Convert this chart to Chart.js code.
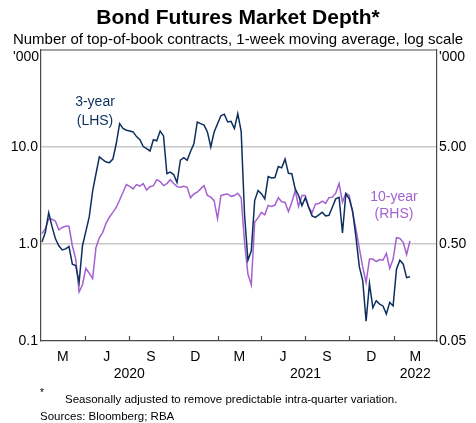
<!DOCTYPE html>
<html>
<head>
<meta charset="utf-8">
<title>Bond Futures Market Depth</title>
<script src="https://cdn.jsdelivr.net/npm/chart.js@4.4.1/dist/chart.umd.min.js"></script>
<style>
  html, body { margin: 0; padding: 0; background: #fff; }
  canvas { display: block; }
</style>
</head>
<body>
<canvas id="c" width="476" height="423"></canvas>
<script>
// weekly observations, first one on 3 Jan 2020
const firstObs = '2020-01-03';
const obsStepDays = 7;

// 3-year futures, '000 contracts (LHS)
const threeYear = [
  1.05, 1.32, 2.1, 1.5, 1.13, 0.96, 0.87, 0.89, 0.94, 0.62,
  0.60, 0.40, 0.96, 1.35, 1.9, 3.5, 5.3, 7.9, 7.4, 7.0,
  6.9, 7.5, 10.8, 17.4, 15.5, 14.9, 14.6, 14.3, 12.8, 11.9,
  10.1, 9.6, 9.1, 11.9, 11.6, 14.6, 13.0, 5.3, 5.5, 5.2,
  4.3, 7.3, 7.75, 7.3, 9.0, 10.8, 18.1, 17.4, 16.8, 14.3,
  10.0, 14.3, 17.4, 21.0, 21.8, 18.1, 18.4, 15.5, 22.1, 14.5,
  2.0, 0.68, 0.85, 2.8, 3.55, 3.3, 2.92, 4.96, 4.8, 4.85,
  6.3, 6.1, 7.5, 5.35, 5.3, 3.7, 3.16, 2.49, 2.99, 2.39,
  1.95, 1.88, 2.0, 2.12, 1.95, 1.98, 2.39, 2.92, 3.03, 1.3,
  3.29, 2.92, 2.2, 1.17, 0.58, 0.42, 0.16, 0.39, 0.22, 0.26,
  0.24, 0.23, 0.19, 0.25, 0.23, 0.55, 0.68, 0.62, 0.45, 0.46
];

// 10-year futures, '000 contracts (RHS)
const tenYear = [
  0.64, 0.72, 0.91, 0.9, 0.86, 0.70, 0.74, 0.76, 0.76, 0.48,
  0.35, 0.16, 0.19, 0.28, 0.25, 0.22, 0.46, 0.58, 0.66, 0.82,
  0.95, 1.06, 1.19, 1.42, 1.71, 2.05, 1.96, 1.85, 2.05, 1.98,
  2.1, 1.8, 1.95, 2.0, 2.3, 2.2, 2.0, 2.1, 2.3, 2.1,
  1.95, 1.92, 1.97, 1.92, 1.5, 1.64, 1.71, 1.85, 2.0, 1.58,
  1.52, 1.40, 0.91, 1.58, 1.62, 1.64, 1.55, 1.58, 1.67, 1.5,
  0.52, 0.245, 0.19, 0.84, 0.93, 1.06, 1.0, 1.25, 1.22, 1.26,
  1.5, 1.36, 1.34, 1.08, 1.35, 1.78, 1.22, 1.58, 1.58, 1.19,
  1.05, 1.29, 1.31, 1.38, 1.31, 1.5, 1.52, 1.67, 2.1, 1.35,
  1.67, 1.58, 1.06, 0.71, 0.45, 0.29, 0.2, 0.35, 0.35, 0.33,
  0.345, 0.34, 0.40, 0.28, 0.35, 0.58, 0.57, 0.52, 0.39, 0.54
];

const quarterStarts = ['2020-01-01', '2020-04-01', '2020-07-01', '2020-10-01', '2021-01-01',
  '2021-04-01', '2021-07-01', '2021-10-01', '2022-01-01', '2022-04-01'];
const quarterLabels = ['M', 'J', 'S', 'D', 'M', 'J', 'S', 'D', 'M'];
const yearLabels = ['2020', '2021', '2022'];

const lhsTicks = [0.1, 1, 10];
const rhsTicks = [0.05, 0.5, 5];

const navy = '#0d2f5e';
const purple = '#a462d0';
const axisColor = '#4a4a4a';
const gridColor = '#c8c8c8';
const fontFamily = "'Liberation Sans', Arial, sans-serif";

Chart.defaults.font.family = fontFamily;
Chart.defaults.color = '#000';

function dayNo(s) {
  return (Date.parse(s) - Date.parse(quarterStarts[0])) / 864e5;
}
const axisEnd = dayNo(quarterStarts[quarterStarts.length - 1]);
const quarterMids = quarterLabels.map((q, i) => (dayNo(quarterStarts[i]) + dayNo(quarterStarts[i + 1])) / 2);
const yearMids = yearLabels.map(y => {
  const a = Math.max(0, dayNo(y + '-01-01'));
  const b = Math.min(axisEnd, dayNo((+y + 1) + '-01-01'));
  return (a + b) / 2;
});
const obsDay = i => dayNo(firstObs) + i * obsStepDays;

const extras = {
  id: 'extras',
  afterDraw(chart) {
    const {ctx, chartArea: a, scales} = chart;
    ctx.save();
    // top frame line
    ctx.strokeStyle = axisColor;
    ctx.lineWidth = 1.2;
    ctx.beginPath();
    ctx.moveTo(a.left, a.top);
    ctx.lineTo(a.right, a.top);
    ctx.stroke();
    // quarter tick marks, pointing into the plot
    quarterStarts.slice(1, -1).forEach(s => {
      const px = Math.round(scales.x.getPixelForValue(dayNo(s))) + 0.5;
      ctx.beginPath();
      ctx.moveTo(px, a.bottom);
      ctx.lineTo(px, a.bottom - 5);
      ctx.stroke();
    });
    // units
    ctx.font = '14px ' + fontFamily;
    ctx.fillStyle = '#000';
    ctx.textBaseline = 'middle';
    ctx.textAlign = 'right';
    ctx.fillText("'000", a.left - 2, a.top + 7);
    ctx.textAlign = 'left';
    ctx.fillText("'000", a.right + 2, a.top + 7);
    // series labels
    ctx.textAlign = 'center';
    ctx.fillStyle = navy;
    ctx.fillText('3-year', a.left + 54, a.top + 52);
    ctx.fillText('(LHS)', a.left + 54, a.top + 71);
    ctx.fillStyle = purple;
    ctx.fillText('10-year', a.left + 353, a.top + 147);
    ctx.fillText('(RHS)', a.left + 353, a.top + 164);
    // notes
    ctx.fillStyle = '#000';
    ctx.textAlign = 'left';
    ctx.font = '10px ' + fontFamily;
    ctx.fillText('*', 40, 393);
    ctx.font = '11.5px ' + fontFamily;
    ctx.fillText('Seasonally adjusted to remove predictable intra-quarter variation.', 65, 400);
    ctx.fillText('Sources: Bloomberg; RBA', 40, 417);
    ctx.restore();
  }
};

new Chart(document.getElementById('c'), {
  type: 'line',
  data: {
    datasets: [
      {
        label: '3-year (LHS)',
        data: threeYear.map((v, i) => ({x: obsDay(i), y: v})),
        borderColor: navy,
        borderWidth: 1.5,
        yAxisID: 'y'
      },
      {
        label: '10-year (RHS)',
        data: tenYear.map((v, i) => ({x: obsDay(i), y: v})),
        borderColor: purple,
        borderWidth: 1.5,
        yAxisID: 'y2'
      }
    ]
  },
  options: {
    responsive: false,
    animation: false,
    elements: { point: { radius: 0 }, line: { tension: 0 } },
    layout: { padding: { left: 0, right: 0, top: 0, bottom: 40 } },
    plugins: {
      legend: { display: false },
      tooltip: { enabled: false },
      title: {
        display: true,
        text: 'Bond Futures Market Depth*',
        font: { size: 21, weight: 'bold' },
        color: '#000',
        padding: { top: 6, bottom: 0 }
      },
      subtitle: {
        display: true,
        text: 'Number of top-of-book contracts, 1-week moving average, log scale',
        font: { size: 15 },
        color: '#000',
        padding: { top: 0, bottom: 0.8 }
      }
    },
    scales: {
      x: {
        type: 'linear',
        position: 'bottom',
        min: 0,
        max: axisEnd,
        afterBuildTicks: s => { s.ticks = quarterMids.map(v => ({value: v})); },
        afterFit: s => { s.height = 24; },
        ticks: {
          autoSkip: false,
          maxRotation: 0,
          padding: 8,
          font: { size: 14 },
          callback: (v, i) => quarterLabels[i]
        },
        grid: { display: false, drawTicks: false },
        border: { display: true, color: axisColor, width: 1.2 }
      },
      xYear: {
        type: 'linear',
        position: 'bottom',
        min: 0,
        max: axisEnd,
        afterBuildTicks: s => { s.ticks = yearMids.map(v => ({value: v})); },
        afterFit: s => { s.height = 18; },
        ticks: {
          autoSkip: false,
          maxRotation: 0,
          padding: 1,
          font: { size: 14 },
          callback: (v, i) => yearLabels[i]
        },
        grid: { display: false, drawTicks: false },
        border: { display: false }
      },
      y: {
        type: 'logarithmic',
        position: 'left',
        min: 0.1,
        max: 100,
        afterBuildTicks: s => { s.ticks = lhsTicks.map(v => ({value: v})); },
        afterFit: s => { s.width = 41; },
        ticks: {
          padding: 3,
          font: { size: 14 },
          callback: v => v.toFixed(1)
        },
        grid: {
          drawTicks: false,
          color: c => (c.tick && c.tick.value === 0.1) ? 'rgba(0,0,0,0)' : gridColor,
          lineWidth: 1.5
        },
        border: { display: true, color: axisColor, width: 1.2 }
      },
      y2: {
        type: 'logarithmic',
        position: 'right',
        min: 0.05,
        max: 50,
        afterBuildTicks: s => { s.ticks = rhsTicks.map(v => ({value: v})); },
        afterFit: s => { s.width = 39; },
        ticks: {
          padding: 2,
          font: { size: 14 },
          callback: v => v.toFixed(2)
        },
        grid: { drawOnChartArea: false, drawTicks: false },
        border: { display: true, color: axisColor, width: 1.2 }
      }
    }
  },
  plugins: [extras]
});
</script>
</body>
</html>
